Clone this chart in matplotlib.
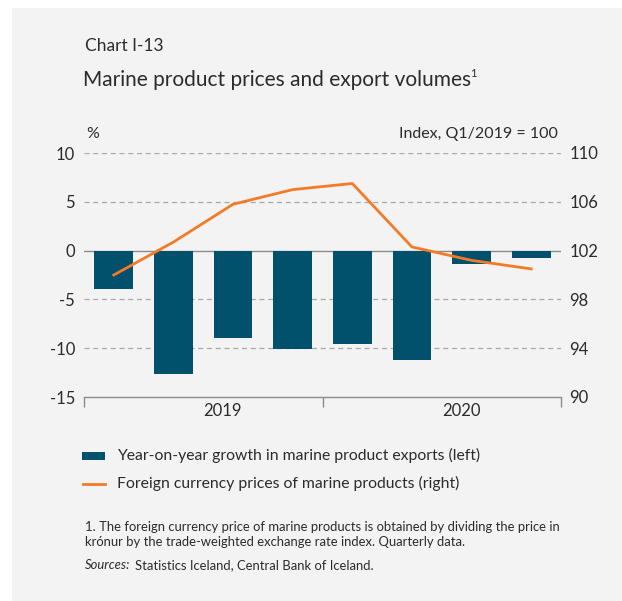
import matplotlib.pyplot as plt
from matplotlib.patches import Rectangle

# quarterly data, 2019Q1 - 2020Q4
quarters = ['Q1/19', 'Q2/19', 'Q3/19', 'Q4/19', 'Q1/20', 'Q2/20', 'Q3/20', 'Q4/20']
export_growth = [-3.9, -12.6, -9.0, -10.1, -9.6, -11.2, -1.4, -0.8]
price_index = [100.0, 102.7, 105.8, 107.0, 107.5, 102.3, 101.2, 100.5]
left_ticks = [-15, -10, -5, 0, 5, 10]
right_ticks = [90, 94, 98, 102, 106, 110]
year_labels = ['2019', '2020']

bar_color = '#01506c'
line_color = '#f47b25'
grid_color = '#a8a8a8'
text_color = '#2b2b2b'
bg = '#f3f3f3'

plt.rcParams['font.family'] = ['Lato', 'DejaVu Sans']

W, H = 622, 601


def fx(px):
    return px / W


def fy(py):
    return 1 - py / H


fig = plt.figure(figsize=(6.22, 6.01), dpi=100)
fig.patch.set_facecolor('white')
fig.add_artist(Rectangle((fx(12), 0), 1, fy(8), transform=fig.transFigure,
                         facecolor=bg, edgecolor='none', zorder=-10))

ax = fig.add_axes([fx(84), fy(397), 477 / W, 244 / H])
ax.set_facecolor('none')
ax2 = ax.twinx()

x = list(range(len(quarters)))
ax.bar(x, export_growth, width=0.65, color=bar_color, zorder=3)
ax2.plot(x, price_index, color=line_color, lw=2.0, zorder=4)

ax.set_xlim(-0.5, 7.5)
ax.set_ylim(-15, 10)
ax2.set_ylim(90, 110)

# grid lines
for v in [-10, -5, 5, 10]:
    ax.axhline(v, color=grid_color, lw=0.9, ls=(0, (4, 3)), zorder=1)
ax.axhline(0, color='#8c8c8c', lw=1.0, zorder=2)

for a in (ax, ax2):
    for s in a.spines.values():
        s.set_visible(False)
ax.spines['bottom'].set_visible(True)
ax.spines['bottom'].set_color('#8c8c8c')
ax.spines['bottom'].set_linewidth(1.0)

ax.set_yticks(left_ticks)
ax.set_yticklabels([str(t) for t in left_ticks])
ax2.set_yticks(right_ticks)
ax2.set_yticklabels([str(t) for t in right_ticks])
ax.tick_params(axis='y', length=0, pad=6.5, labelsize=12, labelcolor=text_color)
ax2.tick_params(axis='y', length=0, pad=6, labelsize=12, labelcolor=text_color)

ax.set_xticks([-0.5, 3.5, 7.5])
ax.set_xticklabels([])
ax.tick_params(axis='x', length=7, width=1.0, color='#8c8c8c', direction='out')
for xl, lab in zip([1.82, 5.83], year_labels):
    ax.text(xl, -15.6, lab, ha='center', va='top', fontsize=12, color=text_color)

ax.text(-0.5 + 2 / 59.6, 11.5, '%', ha='left', va='baseline', fontsize=11.5, color=text_color)
ax.text(7.45, 11.5, 'Index, Q1/2019 = 100', ha='right', va='baseline', fontsize=11.5, color=text_color)

# titles
fig.text(fx(85), fy(46), 'Chart I-13', ha='left', va='center', fontsize=12.5, color=text_color)
title = fig.text(fx(83), fy(80), 'Marine product prices and export volumes', ha='left', va='center',
                 fontsize=15, color=text_color)
ax.annotate('1', xy=(1, 1), xycoords=title, xytext=(-0.5, 1.5), textcoords='offset points',
            ha='left', va='top', fontsize=8, color=text_color, annotation_clip=False)

# legend
fig.add_artist(Rectangle((fx(82), fy(459.5)), 23 / W, 8 / H, transform=fig.transFigure,
                         facecolor=bar_color, edgecolor='none'))
fig.add_artist(plt.Line2D([fx(83), fx(105)], [fy(484), fy(484)], transform=fig.transFigure,
                          color=line_color, lw=2))
fig.text(fx(117), fy(455), 'Year-on-year growth in marine product exports (left)',
         ha='left', va='center', fontsize=11.3, color=text_color)
fig.text(fx(117), fy(483), 'Foreign currency prices of marine products (right)',
         ha='left', va='center', fontsize=11.3, color=text_color)

# footnotes
fig.text(fx(85), fy(527),
         '1. The foreign currency price of marine products is obtained by dividing the price in',
         ha='left', va='center', fontsize=9.35, color=text_color)
fig.text(fx(85), fy(542), 'krónur by the trade-weighted exchange rate index. Quarterly data.',
         ha='left', va='center', fontsize=9.35, color=text_color)
src = fig.text(fx(85), fy(565), 'Sources:', ha='left', va='center', fontsize=9.35,
               style='italic', color=text_color)
ax.annotate('Statistics Iceland, Central Bank of Iceland.', xy=(1, 0), xycoords=src,
            xytext=(3.5, 0), textcoords='offset points', ha='left', va='bottom',
            fontsize=9.35, color=text_color, annotation_clip=False)

fig.savefig('out.png', dpi=100, facecolor=fig.get_facecolor())
